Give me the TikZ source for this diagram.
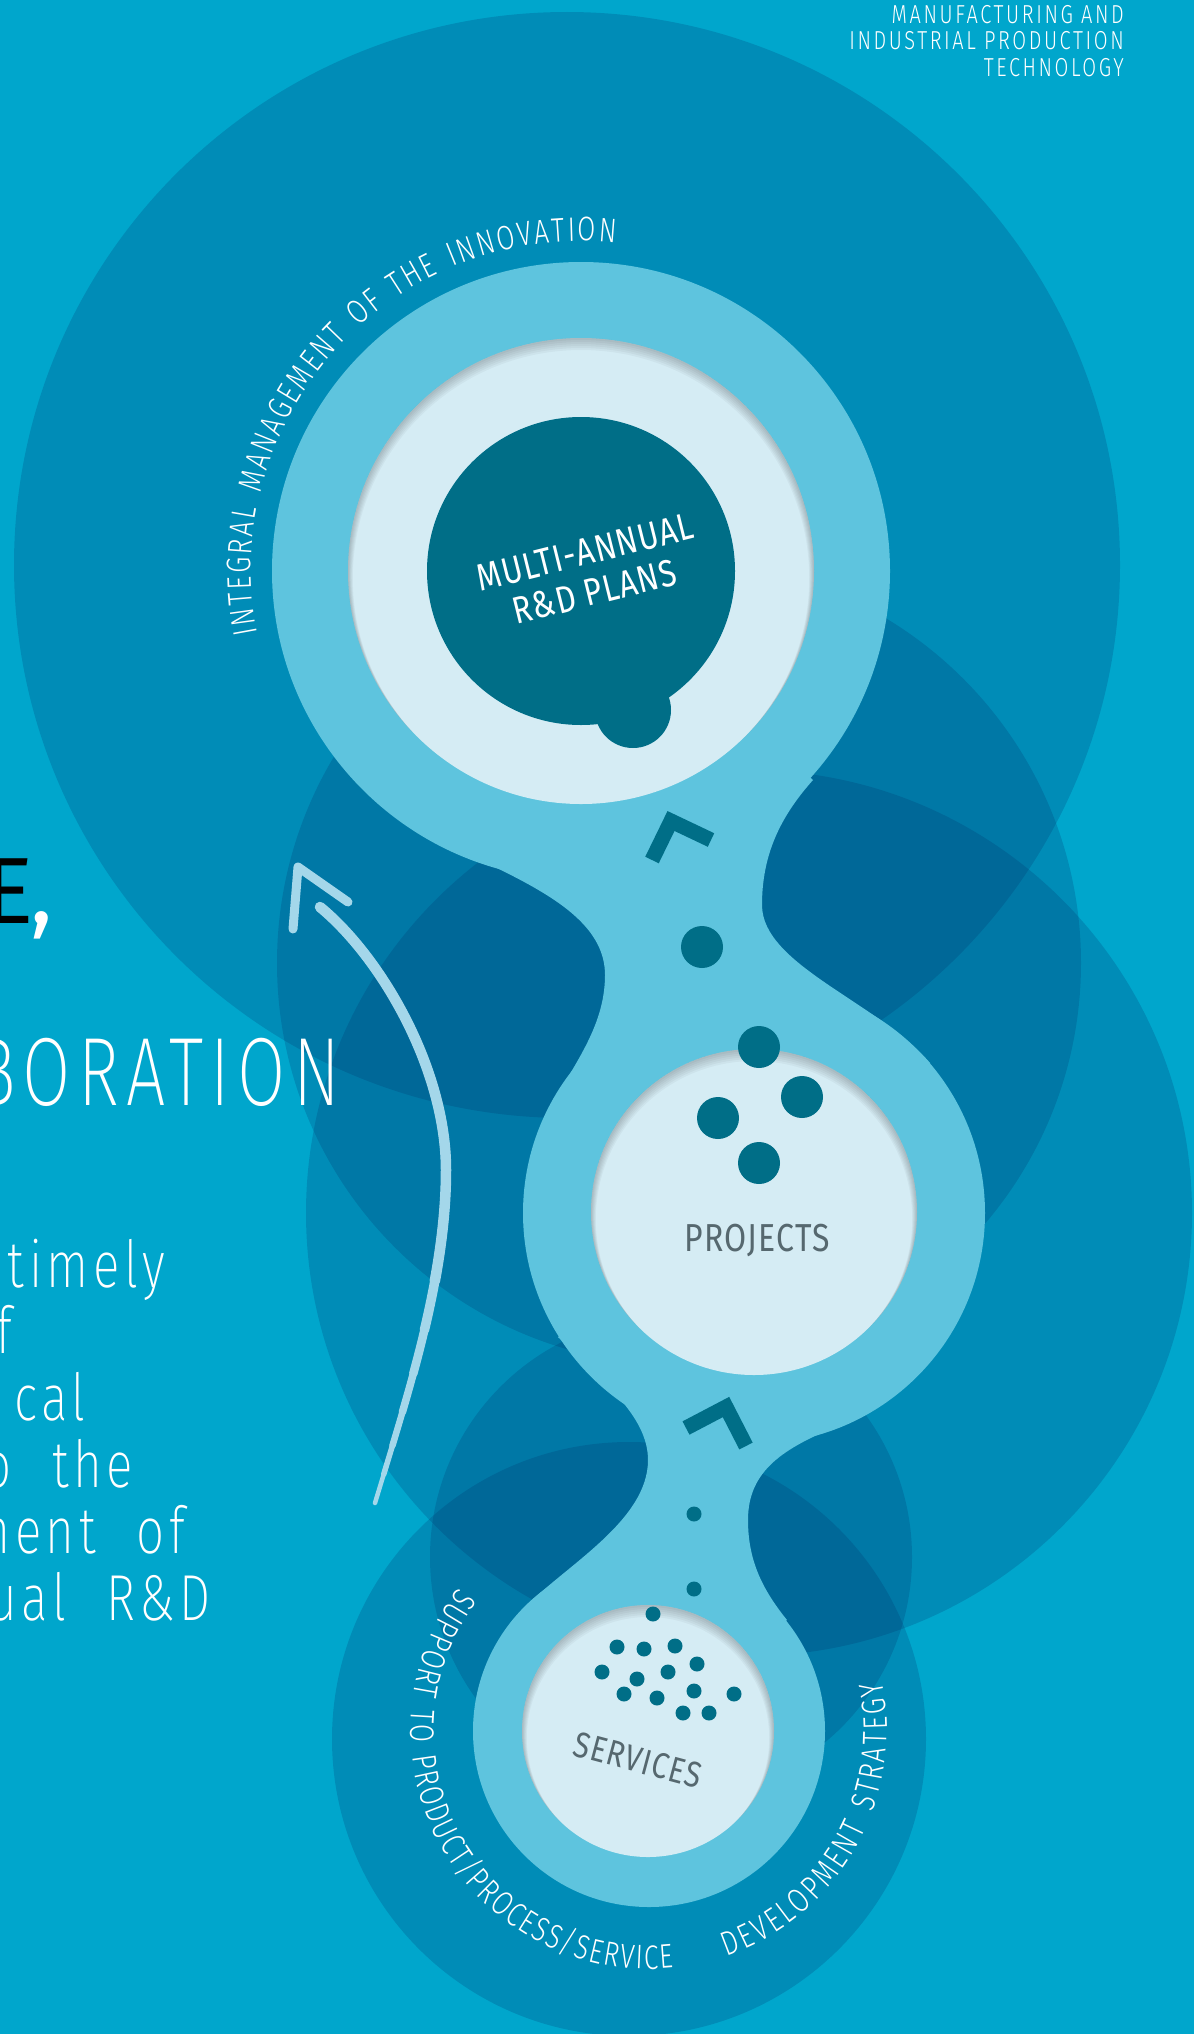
\documentclass[tikz,border=0pt]{standalone}
\usepackage{fontspec}
\usepackage{tikz}
\usetikzlibrary{decorations.text}
\newfontfamily\dinthin{Fira Sans ExtraLight}[FakeStretch=0.76,LetterSpace=7,WordSpace=2.2]
\newfontfamily\dinhuge{Fira Sans ExtraLight}[FakeStretch=0.72,LetterSpace=7.5]
\newfontfamily\dinlight{Fira Sans Light}[FakeStretch=0.77,LetterSpace=10]
\newfontfamily\dinreg{Fira Sans}[FakeStretch=0.82,LetterSpace=3]
\newfontfamily\dinwide{Fira Sans}
\definecolor{bgblue}{RGB}{0,166,204}
\definecolor{ringblue}{RGB}{0,40,100}
\definecolor{blobblue}{HTML}{5EC4DE}
\definecolor{paleblue}{HTML}{D5ECF4}
\definecolor{darkteal}{HTML}{006E87}
\definecolor{greytext}{HTML}{56686F}
\definecolor{arrowblue}{HTML}{A4D7EA}

\begin{document}
\begin{tikzpicture}[x=1pt,y=-1pt]
\tikzstyle{ring} = [fill=ringblue, fill opacity=0.2]
\tikzstyle{blob} = [fill=blobblue]
\tikzstyle{chevron} = [draw=darkteal, line width=15pt, miter limit=4]
\tikzstyle{arrowstroke} = [draw=arrowblue, line width=9pt, line cap=round, line join=round]
\tikzstyle{para} = [text=white, inner sep=0pt, font=\dinthin\fontsize{65}{66}\selectfont]
\tikzstyle{arctext} = [decorate, decoration={text along path, text align={fit to path},
    text={|\dinlight\fontsize{34}{34}\selectfont\color{white}|#1}}]
\useasboundingbox (0,0) rectangle (1194,2034);
\clip (0,0) rectangle (1194,2034);
\fill[bgblue] (0,0) rectangle (1194,2034);
% overlapping discs behind the chain
\foreach \cx/\cy/\r in {567/565/553, 679/963/402, 749/1213/443, 671/1557/241, 629/1739/297}
    \fill[ring] (\cx,\cy) circle[radius=\r];
% the chain of three rounds
\fill[blob] (581,571) circle[radius=309] (754,1213) circle[radius=231] (649,1731) circle[radius=176];
\fill[blob] (363,789) .. controls (434,860) and (605,885) .. (605,975)
    .. controls (605,1045) and (547,1090) .. (530,1158) -- (754,1213) -- (930,1063)
    .. controls (878,1002) and (762,965) .. (762,905)
    .. controls (762,855) and (780,817) .. (813,780) -- (581,571) -- cycle;
\fill[blob] (558,1337) .. controls (600,1379) and (648,1415) .. (648,1460)
    .. controls (648,1520) and (568,1564) .. (525,1607) -- (649,1731) -- (787,1620)
    .. controls (762,1589) and (748,1560) .. (748,1520)
    .. controls (748,1470) and (784,1448) .. (840,1425) -- (754,1213) -- cycle;
\foreach \cx/\cy/\r in {581/571/233, 754/1212/163, 648/1731/126}{
    \fill[paleblue] (\cx,\cy) circle[radius=\r];
    \begin{scope}
    \clip (\cx,\cy) circle[radius=\r];
    \foreach \d in {2,4,...,12}
        \fill[black, opacity=0.035, even odd rule] (\cx,\cy) circle[radius=\r+1]
            (\cx,\cy+\d*0.6) circle[radius=\r-\d*0.4];
    \end{scope}
}
\fill[darkteal] (581,571) circle[radius=154] (633,710) circle[radius=38];
\node[rotate=14, text=white, align=center, inner sep=0pt,
    font=\dinreg\fontsize{38}{41}\selectfont] (plans) at (590,572) {MULTI-ANNUAL\\R\&D PLANS};
\node[text=greytext, inner sep=0pt, font=\dinreg\fontsize{39}{40}\selectfont] (projects) at (757,1240) {PROJECTS};
\node[rotate=-15, text=greytext, inner sep=0pt, font=\dinreg\fontsize{36}{40}\selectfont] (services) at (638,1760) {SERVICES};
% dots and chevrons
\foreach \p in {(702,947),(759,1047),(802,1097),(718,1118),(759,1163)}
    \fill[darkteal] \p circle[radius=21];
\foreach \p in {(694,1514),(694,1589),(653,1614),(617,1647),(644,1649),(675,1646),(697,1664),(602,1672),
    (637,1679),(668,1672),(624,1694),(657,1698),(694,1691),(734,1694),(683,1713),(709,1713)}
    \fill[darkteal] \p circle[radius=7.5];
\draw[chevron] (711,840) -- (671,821) -- (652,860);
\draw[chevron] (686,1428) -- (726,1407) -- (746,1446);
% texts round the rounds
\path[arctext=INTEGRAL MANAGEMENT OF THE INNOVATION] (581,571) ++(-191:330) arc[start angle=-191, end angle=-84, radius=330];
\path[arctext=SUPPORT TO PRODUCT/PROCESS/SERVICE] (649,1731) ++(-143:238) arc[start angle=-143, end angle=-276, radius=238];
\path[arctext=DEVELOPMENT STRATEGY] (649,1731) ++(-289:238) arc[start angle=-289, end angle=-372, radius=238];
% curved arrow, thicker towards the head
\coordinate (arrowtail) at (375,1503);
\coordinate (shaftbend) at (446,1170);
\coordinate (shaftend) at (320,907);
\coordinate (barbleft) at (293,929);
\coordinate (arrowtip) at (298,867);
\coordinate (barbright) at (348,902);
\foreach \w/\s in {4.5/0, 5.5/30, 6.5/60, 7.5/95, 8.5/135, 9.5/180, 10.5/230}
    \draw[arrowstroke, line width=\w pt, dash pattern=on 2000pt off 2000pt, dash phase=4000pt-\s pt]
        (arrowtail) .. controls (407,1397) and (446,1280) .. (shaftbend)
        .. controls (446,1070) and (382,958) .. (shaftend);
\draw[arrowstroke] (barbleft) -- (arrowtip) -- (barbright);
% page texts
\node[anchor=north east, align=right, text=white, inner sep=0pt,
    font=\dinlight\fontsize{26}{26.5}\selectfont] (header) at (1124,5) {MANUFACTURING AND\\INDUSTRIAL PRODUCTION\\TECHNOLOGY};
\node[anchor=base east, inner sep=0pt, font=\dinwide\fontsize{94}{94}\selectfont] (echar) at (34,923) {E};
\node[anchor=base west, inner sep=0pt, text=white, font=\dinwide\fontsize{94}{94}\selectfont] (ecomma) at (30,923) {,};
\node[anchor=base east, text=white, inner sep=0pt,
    font=\dinhuge\fontsize{97}{97}\selectfont] (boration) at (340,1105) {BORATION};
\foreach \txt/\xr/\yb [count=\i] in {timely/165/1287, f/12/1353, cal/86/1420, o the/133/1487, ment of/185/1553, ual R\&D/211/1620}
    \node[para, anchor=base east] (line\i) at (\xr,\yb) {\txt};
\end{tikzpicture}
\end{document}
